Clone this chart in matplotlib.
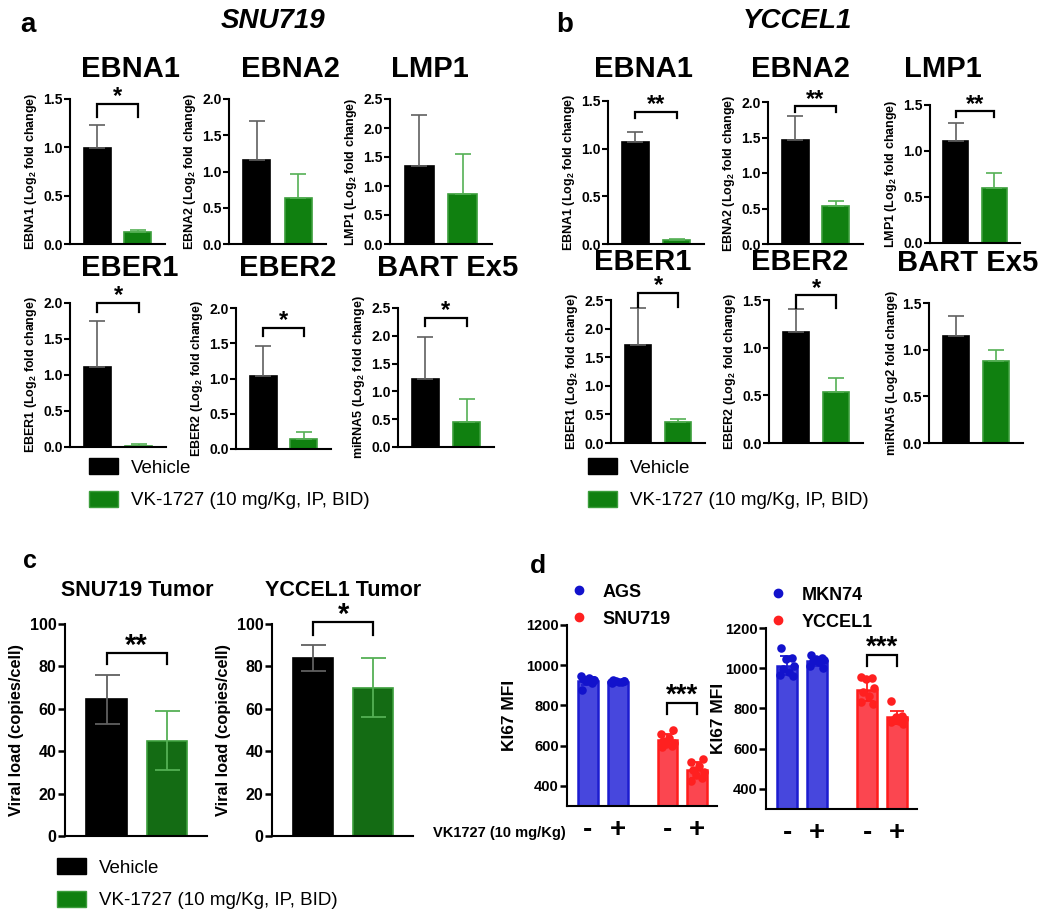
import numpy as np
import matplotlib
matplotlib.use('Agg')
import matplotlib.pyplot as plt
from matplotlib.patches import Patch
from matplotlib.lines import Line2D

plt.rcParams['font.family'] = ['Liberation Sans', 'DejaVu Sans']
plt.rcParams['mathtext.fontset'] = 'custom'
plt.rcParams['mathtext.rm'] = 'Liberation Sans:bold'
plt.rcParams['mathtext.bf'] = 'Liberation Sans:bold'
plt.rcParams['axes.linewidth'] = 1.5

# ---- data ----
genes = ['EBNA1', 'EBNA2', 'LMP1', 'EBER1', 'EBER2', 'BART Ex5']
gene_ylabels = ['EBNA1', 'EBNA2', 'LMP1', 'EBER1', 'EBER2', 'miRNA5']

# panel a: SNU719
a_vehicle = [0.99, 1.16, 1.34, 1.11, 1.04, 1.23]
a_vehicle_sd = [0.24, 0.54, 0.89, 0.64, 0.42, 0.75]
a_vk = [0.12, 0.64, 0.87, 0.02, 0.14, 0.45]
a_vk_sd = [0.03, 0.33, 0.68, 0.02, 0.10, 0.42]
a_ymax = [1.5, 2.0, 2.5, 2.0, 2.0, 2.5]
a_sig = ['*', '', '', '*', '*', '*']
a_bracket = [(1.45, 1.31), None, None, (2.0, 1.875), (1.72, 1.60), (2.32, 2.18)]

# panel b: YCCEL1
b_vehicle = [1.07, 1.47, 1.11, 1.72, 1.16, 1.15]
b_vehicle_sd = [0.11, 0.33, 0.19, 0.64, 0.25, 0.21]
b_vk = [0.04, 0.53, 0.60, 0.36, 0.53, 0.88]
b_vk_sd = [0.015, 0.08, 0.16, 0.06, 0.15, 0.12]
b_ymax = [1.5, 2.0, 1.5, 2.5, 1.5, 1.5]
b_sig = ['**', '**', '**', '*', '*', '']
b_bracket = [(1.385, 1.32), (1.94, 1.86), (1.43, 1.37), (2.62, 2.38), (1.55, 1.42), None]

# panel c: viral load
c_titles = ['SNU719 Tumor', 'YCCEL1 Tumor']
c_vehicle = [64.5, 84]
c_vehicle_sd = [11.5, 6]
c_vk = [45, 70]
c_vk_sd = [14, 14]
c_sig = ['**', '*']
c_bracket = [(86.3, 81), (101, 95)]

# panel d: KI67 MFI, individual points
d_left_names = ['AGS', 'SNU719']
d_left = [
    [878, 912, 920, 928, 932, 938, 945, 925],   # AGS -
    [912, 918, 920, 922, 925, 915, 918, 921],   # AGS +
    [592, 600, 608, 615, 625, 640, 660, 680],   # SNU719 -
    [425, 440, 455, 470, 480, 500, 520, 535],   # SNU719 +
]
d_right_names = ['MKN74', 'YCCEL1']
d_right = [
    [1100, 1050, 1045, 1010, 995, 980, 965, 960],   # MKN74 -
    [1068, 1050, 1045, 1040, 1035, 1030, 1010, 1000],  # MKN74 +
    [955, 950, 945, 900, 880, 860, 830, 820],   # YCCEL1 -
    [835, 760, 755, 750, 745, 740, 735, 725],   # YCCEL1 +
]
d_bracket = [(812, 758), (1066, 1011)]
treat_labels = ['-', '+', '-', '+']

# ---- styles ----
W, H = 1050, 915
BLACK = '#000000'
GREEN = '#108010'
GREEN_EDGE = '#3c9e3c'
GREEN_ERR = '#55b055'
GRAY_ERR = '#606060'
BLUE = '#4747dd'
BLUE_EDGE = '#1c1cd0'
BLUE_DOT = '#1212cc'
RED = '#fb4650'
RED_EDGE = '#ff1c1c'
RED_DOT = '#ff2020'

fig = plt.figure(figsize=(W / 100, H / 100), dpi=100)


def px_axes(left, right, top, bottom):
    return fig.add_axes([left / W, 1 - bottom / H, (right - left) / W, (bottom - top) / H])


def fig_text(x, y, s, **kw):
    fig.text(x / W, 1 - y / H, s, **kw)


def style_axes(ax, tick_size):
    ax.spines['top'].set_visible(False)
    ax.spines['right'].set_visible(False)
    ax.tick_params(axis='y', length=4, width=1.5, labelsize=tick_size, pad=1)
    for lab in ax.get_yticklabels():
        lab.set_fontweight('bold')


def bracket(ax, top, leg, star, size, x0=0, x1=1, shift=0):
    ax.plot([x0, x0, x1, x1], [leg, top, top, leg], color='black', lw=1.6,
            clip_on=False, solid_joinstyle='miter')
    ax.annotate(star, xy=((x0 + x1) / 2, top), xytext=(0, shift),
                textcoords='offset points', ha='center', va='baseline',
                fontsize=size, fontweight='bold', annotation_clip=False)


def small_panel(box, name, ylab, veh, veh_sd, vk, vk_sd, ymax, sig, br, title_xy,
                plain_log=False):
    ax = px_axes(*box)
    ax.bar([0, 1], [veh, vk], width=0.66, color=[BLACK, GREEN],
           edgecolor=[BLACK, GREEN_EDGE], linewidth=1.2)
    ax.errorbar([0], [veh], yerr=[[0], [veh_sd]], fmt='none', ecolor=GRAY_ERR,
                elinewidth=1.2, capsize=6, capthick=1.2)
    ax.errorbar([1], [vk], yerr=[[0], [vk_sd]], fmt='none', ecolor=GREEN_ERR,
                elinewidth=1.2, capsize=6, capthick=1.2)
    ax.set_xlim(-0.67, 1.67)
    ax.set_ylim(0, ymax)
    ticks = np.arange(0, ymax + 0.01, 0.5)
    ax.set_yticks(ticks)
    ax.set_yticklabels(['%.1f' % t for t in ticks])
    ax.set_xticks([])
    style_axes(ax, 10)
    if plain_log:
        label = ylab + ' (Log2 fold change)'
    else:
        label = ylab + r' (Log$_{2}$ fold change)'
    ax.set_ylabel(label, fontsize=9, fontweight='bold', labelpad=3)
    if br is not None:
        bracket(ax, br[0], br[1], sig, 17, shift=0.5)
    fig_text(title_xy[0], title_xy[1], name, ha='center', va='baseline',
             fontsize=21, fontweight='bold')
    return ax


# ---- panel a ----
a_boxes = [(70, 165, 99, 244), (229, 326, 99, 244), (390, 492, 99, 244),
           (70, 166, 303, 447), (236, 331, 308, 449), (398, 494, 308, 447)]
a_titles = [(130, 77), (290, 77), (430, 77), (130, 276), (288, 276), (448, 276)]
for i in range(6):
    small_panel(a_boxes[i], genes[i], gene_ylabels[i], a_vehicle[i], a_vehicle_sd[i],
                a_vk[i], a_vk_sd[i], a_ymax[i], a_sig[i], a_bracket[i], a_titles[i])

# ---- panel b ----
b_boxes = [(608, 704, 101, 244), (768, 863, 102, 244), (930, 1020, 105, 243),
           (611, 705, 300, 443), (769, 863, 300, 443), (929, 1023, 303, 443)]
b_titles = [(643, 77), (800, 77), (943, 77), (643, 270), (800, 270), (968, 271)]
for i in range(6):
    small_panel(b_boxes[i], genes[i], gene_ylabels[i], b_vehicle[i], b_vehicle_sd[i],
                b_vk[i], b_vk_sd[i], b_ymax[i], b_sig[i], b_bracket[i], b_titles[i],
                plain_log=(i == 5))

fig_text(20, 32, 'a', fontsize=20, fontweight='bold', va='baseline')
fig_text(556, 32, 'b', fontsize=20, fontweight='bold', va='baseline')
fig_text(273, 28, 'SNU719', ha='center', va='baseline', fontsize=20,
         fontweight='bold', fontstyle='italic')
fig_text(797, 28, 'YCCEL1', ha='center', va='baseline', fontsize=20,
         fontweight='bold', fontstyle='italic')

legend_handles = [Patch(facecolor=BLACK, edgecolor=BLACK, label='Vehicle'),
                  Patch(facecolor=GREEN, edgecolor=GREEN_EDGE,
                        label='VK-1727 (10 mg/Kg, IP, BID)')]


def fig_legend(x, y, size):
    fig.legend(handles=legend_handles, loc='upper left',
               bbox_to_anchor=(x / W, 1 - y / H), frameon=False, fontsize=size,
               handlelength=1.55, handleheight=0.95, handletextpad=0.7,
               labelspacing=0.75, borderaxespad=0, borderpad=0)


fig_legend(89, 458, 13.5)
fig_legend(588, 458, 13.5)

# ---- panel c ----
c_boxes = [(65, 207, 624, 836), (272, 413, 624, 836)]
c_title_x = [137, 343]
for i in range(2):
    ax = px_axes(*c_boxes[i])
    ax.bar([0, 1], [c_vehicle[i], c_vk[i]], width=0.67, color=[BLACK, '#146c14'],
           edgecolor=[BLACK, GREEN_EDGE], linewidth=1.2)
    ax.errorbar([0], [c_vehicle[i]], yerr=[c_vehicle_sd[i]], fmt='none', ecolor=GRAY_ERR,
                elinewidth=1.3, capsize=9, capthick=1.3)
    ax.errorbar([1], [c_vk[i]], yerr=[c_vk_sd[i]], fmt='none', ecolor=GREEN_ERR,
                elinewidth=1.3, capsize=9, capthick=1.3)
    ax.set_xlim(-0.69, 1.67)
    ax.set_ylim(0, 100)
    ax.set_yticks([0, 20, 40, 60, 80, 100])
    ax.set_xticks([])
    style_axes(ax, 11.5)
    ax.tick_params(axis='y', length=5, width=1.8)
    ax.set_ylabel('Viral load (copies/cell)', fontsize=11.8, fontweight='bold', labelpad=4)
    bracket(ax, c_bracket[i][0], c_bracket[i][1], c_sig[i], 21, shift=-1)
    fig_text(c_title_x[i], 596, c_titles[i], ha='center', va='baseline',
             fontsize=15.5, fontweight='bold')

fig_text(23, 568, 'c', fontsize=18, fontweight='bold', va='baseline')
fig_legend(57, 858, 13.5)

# ---- panel d ----
d_x = [0, 1, 2.67, 3.67]
d_offsets = np.array([-0.2, 0.15, -0.05, 0.22, -0.15, 0.05, -0.22, 0.2])


def dot_panel(box, groups, names, br, label_x):
    ax = px_axes(*box)
    fills = [BLUE, BLUE, RED, RED]
    edges = [BLUE_EDGE, BLUE_EDGE, RED_EDGE, RED_EDGE]
    dots = [BLUE_DOT, BLUE_DOT, RED_DOT, RED_DOT]
    for k, vals in enumerate(groups):
        vals = np.array(vals)
        ax.bar(d_x[k], vals.mean(), width=0.67, color=fills[k], edgecolor=edges[k],
               linewidth=1.8, zorder=1)
        ax.errorbar(d_x[k], vals.mean(), yerr=vals.std(ddof=1), fmt='none',
                    ecolor=edges[k], elinewidth=1.3, capsize=5, capthick=1.3, zorder=2)
        ax.scatter(d_x[k] + d_offsets[:len(vals)], vals, s=38, color=dots[k],
                   zorder=3, linewidths=0)
    ax.set_xlim(-0.7, 4.33)
    ax.set_ylim(300, 1200)
    ax.set_yticks([400, 600, 800, 1000, 1200])
    ax.set_xticks(d_x)
    ax.set_xticklabels(treat_labels, fontsize=20, fontweight='bold')
    ax.tick_params(axis='x', length=0, pad=8)
    style_axes(ax, 10.5)
    ax.tick_params(axis='y', length=5, width=1.8)
    ax.set_ylabel('KI67 MFI', fontsize=12.5, fontweight='bold')
    ax.yaxis.set_label_coords(label_x, 0.5)
    bracket(ax, br[0], br[1], '***', 20, x0=d_x[2], x1=d_x[3], shift=0.5)
    handles = [Line2D([], [], marker='o', ls='none', color=BLUE_DOT, markersize=6, label=names[0]),
               Line2D([], [], marker='o', ls='none', color=RED_DOT, markersize=6, label=names[1])]
    ax.legend(handles=handles, loc='lower left', bbox_to_anchor=(0.02, 0.975),
              frameon=False, prop={'size': 13, 'weight': 'bold'},
              handlelength=0.8, handletextpad=0.9, labelspacing=0.55,
              borderaxespad=0.1, borderpad=0)
    return ax


dot_panel((567, 717, 625, 806), d_left, d_left_names, d_bracket[0], -0.333)
dot_panel((766, 917, 628, 809), d_right, d_right_names, d_bracket[1], -0.265)

fig_text(530, 573, 'd', fontsize=19, fontweight='bold', va='baseline')
fig_text(433, 837, 'VK1727 (10 mg/Kg)', fontsize=10.5, fontweight='bold', va='baseline')

fig.savefig('out.png', dpi=100, facecolor='white')
